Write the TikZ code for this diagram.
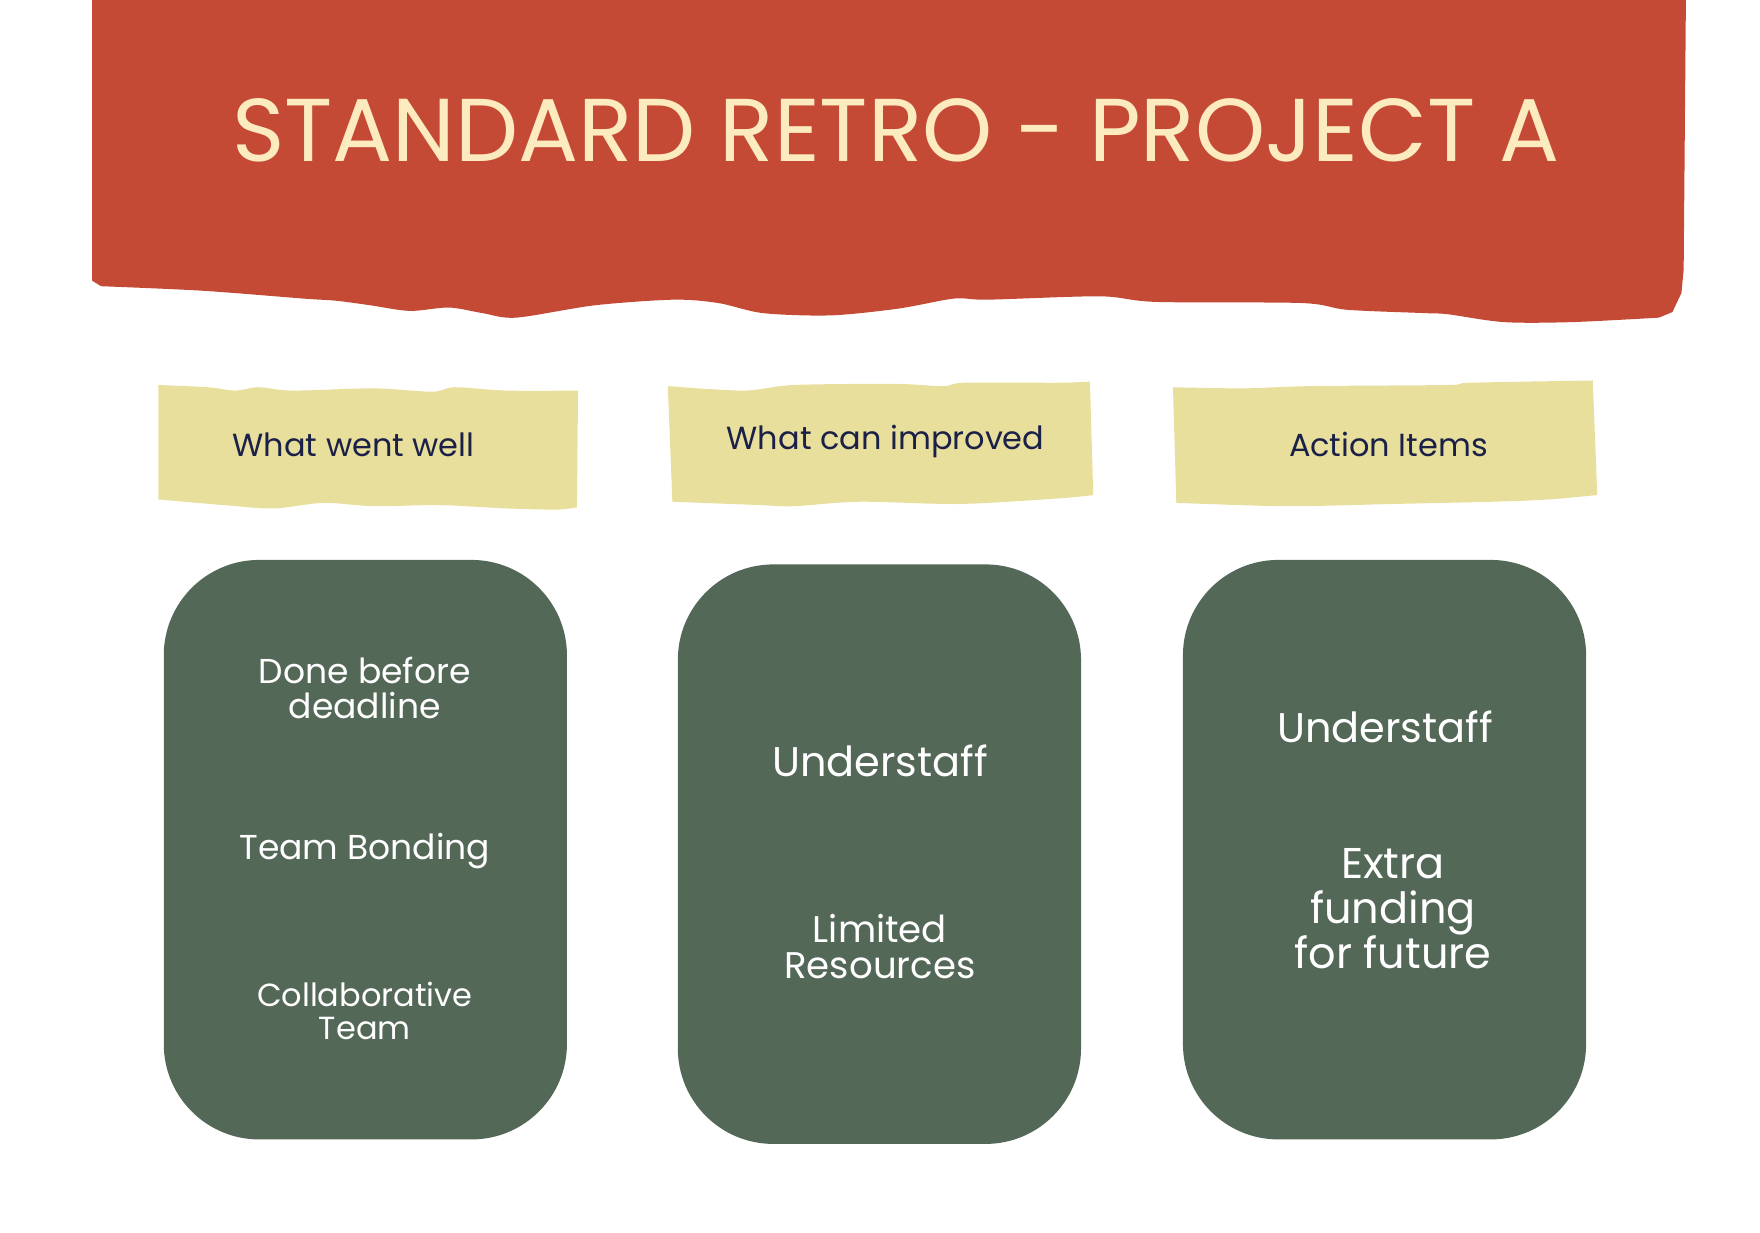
\documentclass[tikz,border=0pt]{standalone}
\usepackage{fontspec}
\setmainfont{Poppins}
\usepackage{tikz}
\usetikzlibrary{positioning}
\definecolor{retroRed}{HTML}{C44A35}
\definecolor{retroCream}{HTML}{FDEBC0}
\definecolor{paperYellow}{HTML}{E9DF9C}
\definecolor{inkNavy}{HTML}{1A2047}
\definecolor{cardGreen}{HTML}{546858}

\begin{document}
\begin{tikzpicture}[x=0.01cm,y=-0.01cm]
			\tikzstyle{paper}=[fill=paperYellow]
			\tikzstyle{card}=[fill=cardGreen, rounded corners=0.85cm, minimum width=3.59cm, minimum height=5.16cm, inner sep=0pt]
			\tikzstyle{heading}=[text=inkNavy, font=\fontsize{8.1}{10}\selectfont]
			\tikzstyle{item}=[text=white, align=center, font=\fontsize{8.75}{8.8}\selectfont]
			\tikzstyle{bigitem}=[text=white, align=center, font=\fontsize{10.5}{11.4}\selectfont]
			\useasboundingbox (0,0) rectangle (1568,1098);
			\fill[white] (0,0) rectangle (1568,1098);

			% banner
			\fill[retroRed] (82,0) -- (82,250) -- (90,255) -- plot[smooth, tension=0.5] coordinates {(90,255) (180,259) (270,266) (300,268) (330,272) (365,277) (400,274) (430,279) (460,283) (530,272) (600,267) (640,270) (680,279) (740,281) (800,275) (850,266) (880,267) (980,264) (1030,269) (1160,270) (1200,276) (1270,279) (1290,280) (1340,287) (1400,287) (1478,283)} -- (1490,278) -- (1498,261) -- (1500,240) -- (1502,0) -- cycle;
			\node[text=retroCream, font=\fontsize{22.6}{23}\selectfont] at (798,116) (title) {STANDARD RETRO - PROJECT A};

			% paper strips
			\fill[paper] plot[smooth, tension=0.5] coordinates {(141,343) (185,345) (210,348) (230,345) (261,348) (333,346) (385,349) (405,345) (451,348) (515,348)} -- (514,452) -- plot[smooth, tension=0.5] coordinates {(514,452) (496,454) (451,453) (392,450) (333,451) (288,448) (244,453) (199,450) (141,445)} -- cycle;
			\fill[paper] plot[smooth, tension=0.5] coordinates {(595,344) (662,348) (707,343) (796,342) (840,344) (860,341) (944,341) (971,340)} -- (974,441) -- plot[smooth, tension=0.5] coordinates {(974,441) (944,444) (855,449) (766,447) (707,451) (677,450) (599,447)} -- cycle;
			\fill[paper] plot[smooth, tension=0.5] coordinates {(1045,345) (1108,346) (1167,344) (1290,343) (1310,341) (1419,339)} -- (1423,441) -- plot[smooth, tension=0.5] coordinates {(1423,441) (1380,445) (1330,447) (1241,449) (1147,451) (1048,448)} -- cycle;
			\node[heading] at (315,396) (headingOne) {What went well};
			\node[heading] at (789,393) (headingTwo) {What can improved};
			\node[heading] at (1237,396) (headingThree) {Action Items};

			% cards
			\node[card] at (325.5,757) (cardOne) {};
			\node[card] at (783.5,761) (cardTwo) {};
			\node[card] at (1233.5,757) (cardThree) {};

			\node[item] at (325,613) (cardOneItemOne) {Done before\\deadline};
			\node[item] at (325,758) (cardOneItemTwo) {Team Bonding};
			\node[item, font=\fontsize{8.1}{8.4}\selectfont] at (325,901) (cardOneItemThree) {Collaborative\\Team};

			\node[bigitem] at (784,678) (cardTwoItemOne) {Understaff};
			\node[item, font=\fontsize{9.4}{9.2}\selectfont] at (784,843) (cardTwoItemTwo) {Limited\\Resources};

			\node[bigitem] at (1234,648) (cardThreeItemOne) {Understaff};
			\node[bigitem, font=\fontsize{10.9}{11.4}\selectfont] at (1241,810) (cardThreeItemTwo) {Extra\\funding\\for future};
		\end{tikzpicture}
\end{document}
